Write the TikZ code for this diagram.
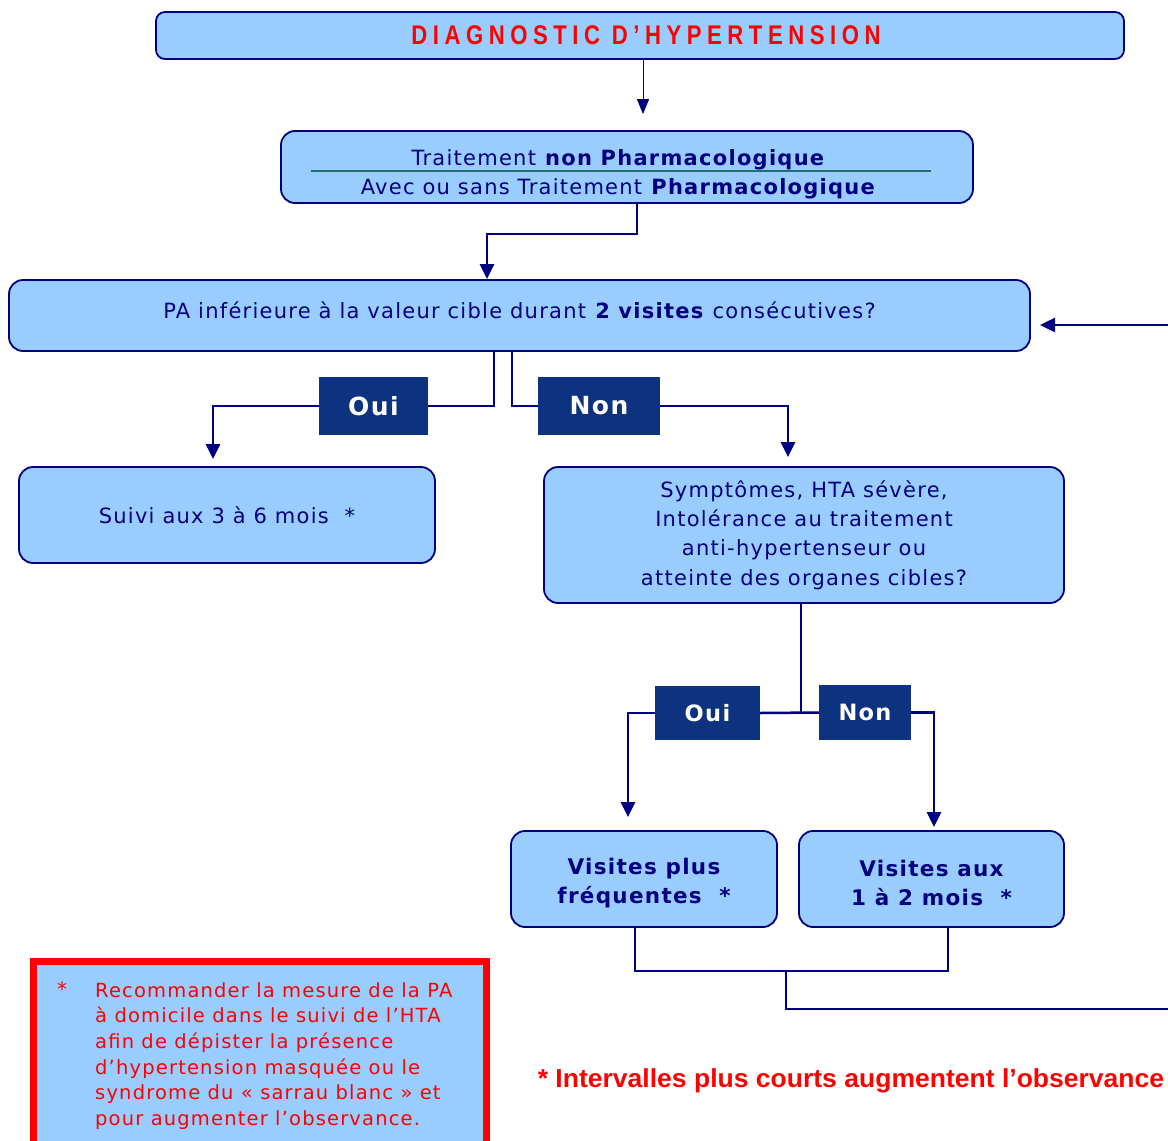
\documentclass[tikz,border=0pt]{standalone}
\usepackage{fontspec}
\usepackage{graphicx}
\setmainfont{DejaVu Sans}[LetterSpace=6]
\newfontfamily\arialfont{Liberation Sans}
\usetikzlibrary{arrows.meta}
\definecolor{bleuclair}{HTML}{99CCFF}
\definecolor{marine}{HTML}{000080}
\definecolor{etiq}{HTML}{0D3380}
\definecolor{sarcelle}{HTML}{1F6F6F}
\tikzset{boite/.append style={draw=marine, line width=1.8pt, fill=bleuclair, rounded corners=14pt, text=marine, align=center, inner sep=0pt, font=\fontsize{21}{29.3}\selectfont}}
\tikzset{etiquette/.append style={fill=etiq, text=white, inner sep=0pt, font=\bfseries\fontsize{25}{28}\selectfont}}
\tikzset{lien/.append style={draw=marine, line width=2.5pt}}
\tikzset{fleche/.append style={lien, -{Triangle[length=15pt,width=14pt]}}}

\begin{document}
\begin{tikzpicture}[x=1pt,y=-1pt]
                \useasboundingbox (0,0) rectangle (1168,1141);
                \clip (0,0) rectangle (1168,1141);
                % boites
                \node[boite, rounded corners=9pt, minimum width=968pt, minimum height=47pt, text=red] (titre) at (640,35.5) {\hspace*{12pt}\arialfont\bfseries\fontsize{27}{30}\selectfont\scalebox{0.82}[1]{\addfontfeature{LetterSpace=25}DIAGNOSTIC D’HYPERTENSION}};
                \node[boite, minimum width=692pt, minimum height=72pt] (trt) at (627,167) {\rule{0pt}{31pt}Traitement \textbf{non Pharmacologique}\hspace*{17pt}\\Avec ou sans Traitement \textbf{Pharmacologique}\hspace*{17pt}};
                \node[boite, minimum width=1021pt, minimum height=71pt] (pa) at (519.5,315.5) {\rule[-10pt]{0pt}{10pt}PA inférieure à la valeur cible durant \textbf{2 visites} consécutives?};
                \node[etiquette, minimum width=109pt, minimum height=58pt] (oui1) at (373.5,406) {Oui};
                \node[etiquette, minimum width=122pt, minimum height=58pt] (non1) at (599,406) {Non};
                \node[boite, minimum width=416pt, minimum height=96pt] (suivi) at (227,515) {Suivi aux 3 à 6 mois~~*};
                \node[boite, minimum width=520pt, minimum height=136pt] (sympt) at (804,535) {Symptômes, HTA sévère,\\Intolérance au traitement\\anti-hypertenseur ou\\atteinte des organes cibles?};
                \node[etiquette, font=\bfseries\fontsize{22.5}{25}\selectfont, minimum width=105pt, minimum height=54pt] (oui2) at (707.5,713) {Oui};
                \node[etiquette, font=\bfseries\fontsize{22.5}{25}\selectfont, minimum width=92pt, minimum height=55pt] (non2) at (865,712.5) {Non};
                \node[boite, font=\bfseries\fontsize{21.5}{29}\selectfont, minimum width=266pt, minimum height=96pt] (vpf) at (644,879) {\rule{0pt}{24pt}Visites plus\\fréquentes~~*};
                \node[boite, font=\bfseries\fontsize{21.5}{29}\selectfont, minimum width=265pt, minimum height=96pt] (vam) at (931.5,879) {\rule{0pt}{24pt}Visites aux\\1 à 2 mois~~*};
                \coordinate (entree) at (1168,325);
                \coordinate (retour) at (1168,1009);
                % liens
                \draw[sarcelle, line width=2pt] ([xshift=-316pt,yshift=-4pt]trt.center) -- ([xshift=304pt,yshift=-4pt]trt.center);
                \draw[fleche, line width=1pt, -{Triangle[length=15pt,width=12pt]}] ([xshift=3pt]titre.south) -- ([xshift=16pt,yshift=16pt]trt.north);
                \draw[fleche] ([xshift=10pt]trt.south) |- (487,234) -- ([xshift=-32.5pt]pa.north);
                \draw[fleche] (entree) -- ++(-128,0);
                \draw[lien] ([xshift=-25.5pt]pa.south) |- (oui1.east);
                \draw[fleche] (oui1.west) -| ([xshift=-14pt,yshift=7pt]suivi.north);
                \draw[lien] ([xshift=-7.5pt]pa.south) |- (non1.west);
                \draw[fleche] (non1.east) -| ([xshift=-16pt,yshift=9pt]sympt.north);
                \draw[lien] ([xshift=-3pt]sympt.south) -- (801,713);
                \draw[lien] (oui2.east) -- (non2.west);
                \draw[fleche] (oui2.west) -| ([xshift=-16pt,yshift=13pt]vpf.north);
                \draw[fleche] (non2.east) -| ([xshift=2.5pt,yshift=3pt]vam.north);
                \draw[lien] ([xshift=-9pt]vpf.south) |- (948,971) -- ([xshift=16.5pt]vam.south);
                \draw[lien] (786,971) |- (retour);
                % notes
                \node[draw=red, line width=7pt, fill=bleuclair, minimum width=453pt, minimum height=198pt, inner sep=0pt] (cadre) at (260,1060.75) {};
                \node[text=red, font=\fontsize{20}{25.7}\selectfont] (etoile) at (62,989) {*};
                \node[anchor=north west, align=left, text=red, inner sep=0pt, font=\fontsize{19.5}{25.7}\selectfont] (rappel) at (95,982) {Recommander la mesure de la PA\\à domicile dans le suivi de l’HTA\\afin de dépister la présence\\d’hypertension masquée ou le\\syndrome du « sarrau blanc » et\\pour augmenter l’observance.};
                \node[text=red, inner sep=0pt, font=\arialfont\bfseries\fontsize{26}{30}\selectfont] (intervalles) at (851,1081) {\scalebox{1.02}[1]{* Intervalles plus courts augmentent l’observance}};
            \end{tikzpicture}
\end{document}
